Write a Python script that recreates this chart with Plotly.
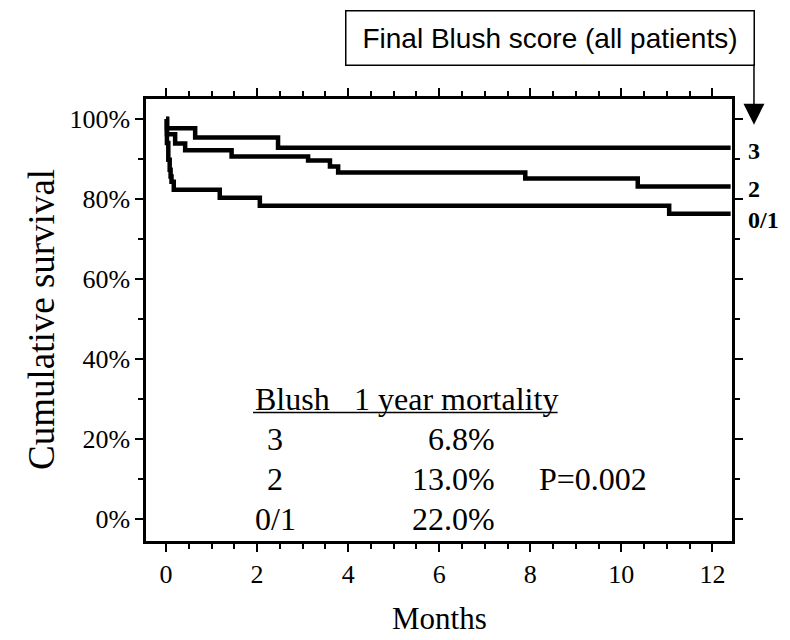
import plotly.graph_objects as go

# Kaplan-Meier survival by final blush score (step changes: month, survival %)
months_3 = [0, 0.02, 0.64, 2.46, 12.4]
surv_3 = [100, 97.7, 95.4, 92.8, 92.8]

months_2 = [0, 0.02, 0.2, 0.42, 1.44, 3.12, 3.6, 3.78, 7.89, 10.36, 12.4]
surv_2 = [100, 96.2, 93.9, 92.2, 90.6, 89.6, 88.1, 86.6, 85.1, 83.1, 83.1]

months_01 = [0, 0.02, 0.05, 0.08, 0.1, 0.12, 0.17, 1.18, 2.06, 11.05, 12.4]
surv_01 = [100, 94.0, 89.8, 87.3, 85.6, 84.3, 82.3, 80.3, 78.3, 76.3, 76.3]

group_labels = ["3", "2", "0/1"]
mortality_1yr = ["6.8%", "13.0%", "22.0%"]
p_value = "P=0.002"

x_ticks = [0, 2, 4, 6, 8, 10, 12]
y_ticks = [0, 20, 40, 60, 80, 100]
y_ticktext = [f"{v}%" for v in y_ticks]

SERIF = "Liberation Serif"
SANS = "Liberation Sans"

fig = go.Figure()
curves = [(months_3, surv_3), (months_2, surv_2), (months_01, surv_01)]
for (mx, sy), name in zip(curves, group_labels):
    fig.add_trace(go.Scatter(
        x=mx, y=sy, mode="lines", line=dict(color="black", width=4.5, shape="hv"),
        name=name, showlegend=False, hoverinfo="skip",
    ))

tick_font = dict(family=SERIF, size=26, color="black")

fig.update_xaxes(
    range=[-0.44, 12.43], tickmode="array", tickvals=x_ticks,
    ticktext=[str(v) for v in x_ticks], tickfont=tick_font,
    showgrid=False, zeroline=False, showline=True, linecolor="black", linewidth=2.5,
    mirror="ticks", ticks="outside", ticklen=8, tickwidth=2, tickcolor="black",
    minor=dict(dtick=0.5, tick0=0, ticks="outside", ticklen=5, tickwidth=2, tickcolor="black"),
)
fig.update_yaxes(
    range=[-5.5, 105], tickmode="array", tickvals=y_ticks, ticktext=y_ticktext,
    tickfont=tick_font,
    showgrid=False, zeroline=False, showline=True, linecolor="black", linewidth=2.5,
    mirror="ticks", ticks="outside", ticklen=8, tickwidth=2, tickcolor="black",
    minor=dict(dtick=10, tick0=0, ticks="outside", ticklen=5, tickwidth=2, tickcolor="black"),
)

annotations = []

# axis titles
annotations.append(dict(
    text="Cumulative survival", xref="paper", yref="paper", x=0, y=0.5,
    xanchor="center", yanchor="middle", xshift=-105, textangle=-90, showarrow=False,
    font=dict(family=SERIF, size=37, color="black"),
))
annotations.append(dict(
    text="Months", xref="paper", yref="paper", x=0.5, y=0,
    xanchor="center", yanchor="middle", yshift=-77, showarrow=False,
    font=dict(family=SERIF, size=31, color="black"),
))

# curve end labels, nudged slightly below each curve's final level
label_shift = [-3, -2, -6]
for (mx, sy), name, dy in zip(curves, group_labels, label_shift):
    annotations.append(dict(
        text="<b>" + name + "</b>", xref="paper", yref="y", x=1, y=sy[-1],
        xanchor="left", yanchor="middle", xshift=14, yshift=dy, showarrow=False,
        font=dict(family=SERIF, size=24, color="black"),
    ))

# boxed caption with arrow pointing at the curve labels
annotations.append(dict(
    text="Final Blush score (all patients)", xref="paper", yref="paper",
    x=0.689, y=1.139, xanchor="center", yanchor="middle", showarrow=False,
    font=dict(family=SANS, size=28, color="black"),
    bordercolor="black", borderwidth=1.5, borderpad=2, width=403, height=49,
    bgcolor="white",
))
annotations.append(dict(
    text="", xref="paper", yref="paper", x=1.0375, y=0.942,
    showarrow=True, ax=0, ay=-62, axref="pixel", ayref="pixel",
    arrowhead=2, arrowsize=2.8, arrowwidth=1.5, arrowcolor="black", standoff=0,
))

# mortality table inside the plot
tfont = dict(family=SERIF, size=32, color="black")
header_y = 30
annotations.append(dict(text="Blush", x=1.91, y=header_y, xanchor="left", yanchor="middle",
                        showarrow=False, font=tfont))
annotations.append(dict(text="1 year mortality", x=4.08, y=header_y, xanchor="left",
                        yanchor="middle", showarrow=False, font=tfont))
for i, (g, m) in enumerate(zip(group_labels, mortality_1yr)):
    ry = header_y - 10 * (i + 1)
    annotations.append(dict(text=g, x=2.4, y=ry, xanchor="center", yanchor="middle",
                            showarrow=False, font=tfont))
    annotations.append(dict(text=m, x=7.26, y=ry, xanchor="right", yanchor="middle",
                            showarrow=False, font=tfont))
    if i == 1:
        annotations.append(dict(text=p_value, x=8.14, y=ry, xanchor="left", yanchor="middle",
                                showarrow=False, font=tfont))

fig.add_shape(type="line", x0=1.91, x1=8.6, y0=26.6, y1=26.6, xref="x", yref="y",
              line=dict(color="black", width=1.5))

fig.update_layout(
    width=790, height=640, margin=dict(l=146, r=58, t=99, b=99),
    paper_bgcolor="white", plot_bgcolor="white", annotations=annotations,
    font=dict(family=SERIF, color="black"),
)

fig.write_html("out.html")
